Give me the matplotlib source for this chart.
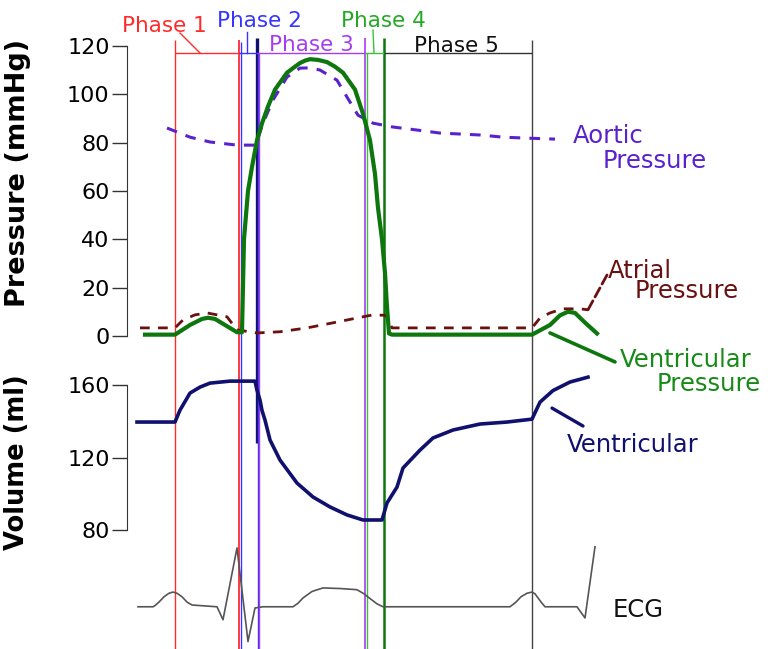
import matplotlib
matplotlib.use("Agg")
import matplotlib.pyplot as plt

# time axis in ms (one heart cycle is ~ 96 -> 810)
phase_names = ['Phase 1', 'Phase 2', 'Phase 3', 'Phase 4', 'Phase 5']
phase_start = [96, 224, 259, 475, 514]
phase_end = [224, 259, 475, 514, 810]

# ventricular pressure (mmHg)
vp_t = [36, 96, 126, 150, 162, 176, 200, 220, 230, 234, 242, 250, 260, 270, 282, 296,
        320, 336, 346, 356, 366, 382, 400, 416, 432, 456, 472, 486, 496, 502, 510, 516,
        520, 524, 530, 810, 846, 866, 882, 896, 916, 940]
vp = [0.5, 0.5, 4.5, 7, 7.5, 7, 4, 1.5, 1.5, 40, 60, 70, 81, 88, 95, 102,
      109, 111.5, 113, 114, 114.6, 114.3, 113.4, 111.5, 109, 102, 92, 81, 67, 53, 40, 26,
      12, 1, 0.5, 0.5, 4.5, 8.5, 10, 9.5, 5.5, 1]

# aortic pressure (mmHg)
ap_t = [80, 126, 166, 220, 256, 262, 272, 292, 320, 346, 366, 386, 420, 440, 462, 492,
        532, 582, 626, 666, 706, 752, 800, 856]
ap = [86.1, 82.3, 80.3, 79.0, 79.0, 82, 88.1, 97.7, 107.2, 110.9, 111, 110.1, 105.9, 98.9,
      91.4, 88.1, 86.5, 85.2, 84.0, 83.6, 83.2, 82.3, 81.9, 81.5]

# atrial pressure (mmHg)
atp_t = [26, 96, 112, 136, 160, 200, 220, 260, 306, 360, 412, 460, 492, 518, 530,
         810, 826, 846, 872, 906, 922]
atp = [3.3, 3.3, 6.6, 8.7, 9.5, 7.9, 2.5, 1.2, 1.7, 3.3, 5.4, 7.4, 8.7, 8.5, 3.3,
       3.3, 7.4, 9.5, 11.2, 11.2, 10.8]

# ventricular volume (ml)
vol_t = [20, 96, 106, 126, 146, 166, 206, 256, 260, 266, 270, 276, 286, 306, 340,
         372, 406, 440, 472, 510, 520, 540, 552, 586, 612, 652, 706, 760, 810,
         826, 852, 886, 922]
vol = [139.6, 139.6, 146.2, 155.6, 158.9, 161.1, 162.2, 162.2, 157.2, 151.7, 146,
       140.7, 129.7, 118.6, 105.9, 98.2, 92.7, 88.3, 85.5, 85.5, 94.9, 103.7, 114.2,
       124.1, 130.8, 135.2, 138.5, 139.6, 141.2, 150.6, 157, 161.7, 164.4]

# ECG (mV)
ecg_t = [22, 52, 56, 64, 74, 84, 92, 100, 110, 120, 130, 180, 192, 220, 242, 256, 272,
         332, 342, 352, 370, 392, 426, 460, 474, 486, 500, 512,
         766, 778, 788, 800, 810, 816, 822, 830, 836, 900, 916, 936]
ecg = [0, 0, 0.02, 0.08, 0.17, 0.23, 0.25, 0.23, 0.17, 0.08, 0.03, 0, -0.22, 1.0, -0.59,
       -0.02, 0, 0, 0.06, 0.15, 0.26, 0.32, 0.31, 0.29, 0.22, 0.14, 0.05, 0,
       0, 0.08, 0.17, 0.23, 0.25, 0.22, 0.15, 0.06, 0, 0, -0.19, 1.02]

RED = '#ff2b2b'
BLUE = '#3535ff'
NAVY = '#10106e'
PURPLE = '#a63cf2'
LGREEN = '#3cbf3c'
DGREEN = '#0d760d'
AORTIC = '#5a22cc'
ATRIAL = '#6b1010'

W, H = 771, 649
fig = plt.figure(figsize=(W / 100, H / 100), dpi=100)


def fy(py):
    return 1 - py / H


left = 127 / W
width = (W - 127) / W
ov = fig.add_axes([left, 0, width, 1])
ov.set_xlim(0, 1288)
ov.set_ylim(0, 1)
ov.axis('off')

# phase boundary lines
vl_t = [96, 224, 228, 259, 261, 263, 475, 480, 514, 810]
vl_c = [RED, RED, BLUE, NAVY, BLUE, PURPLE, PURPLE, LGREEN, DGREEN, '#444444']
vl_w = [1, 1.3, 1, 2.4, 1, 1, 1.2, 1, 1.8, 1]
vl_top = [40, 40, 42, 38, 53, 53, 38, 53, 38, 40]
vl_bot = [649, 649, 649, 443, 649, 649, 649, 649, 649, 649]
for t, c, w, a, b in zip(vl_t, vl_c, vl_w, vl_top, vl_bot):
    ov.vlines(t, fy(b), fy(a), colors=c, lw=w)

phase_col = [RED, BLUE, PURPLE, '#22aa22', '#111111']
ov.hlines([fy(53)] * 5, phase_start, phase_end, colors=[RED, BLUE, PURPLE, LGREEN, '#333333'], lw=1)
# label leaders
ov.plot([106, 146], [fy(33), fy(53)], color=RED, lw=1)
ov.plot([240, 240], [fy(32), fy(53)], color=BLUE, lw=1)
ov.plot([492, 494], [fy(30), fy(53)], color=LGREEN, lw=1)

phase_lbl_x = [74, 264, 368, 512, 658]
phase_lbl_y = [32, 27, 51, 27, 52]
for name, x, y, c in zip(phase_names, phase_lbl_x, phase_lbl_y, phase_col):
    ov.text(x, fy(y), name, color=c, fontsize=15.5, ha='center', va='baseline')

# pressure axes
ax_p = fig.add_axes([left, fy(360), width, (360 - 22) / H])
ax_v = fig.add_axes([left, fy(539), width, (539 - 367) / H])
ax_e = fig.add_axes([left, fy(648), width, (648 - 542) / H])
for ax in (ax_p, ax_v, ax_e):
    ax.set_facecolor('none')
    ax.set_xlim(0, 1288)
    ax.set_xticks([])
    for s in ('top', 'right', 'bottom'):
        ax.spines[s].set_visible(False)
    ax.spines['left'].set_color('#333333')
    ax.tick_params(axis='y', length=11, width=1, pad=1.5, labelsize=16, color='#333333')

ax_p.set_ylim(-10, 130)
ax_p.set_yticks(range(0, 121, 20))
ax_p.spines['left'].set_bounds(0, 120)
ax_p.plot(atp_t, atp, color=ATRIAL, lw=2, ls=(0, (3.5, 3)))
ax_p.plot(ap_t, ap, color=AORTIC, lw=2.2, ls=(0, (3.5, 3)))
ax_p.plot(vp_t, vp, color=DGREEN, lw=3, solid_joinstyle='round')
ax_p.set_ylabel('Pressure (mmHg)', fontsize=19.5, fontweight='bold')
ax_p.yaxis.set_label_coords(-0.149, 0.553)

ax_v.set_ylim(75, 170)
ax_v.set_yticks([80, 120, 160])
ax_v.spines['left'].set_bounds(80, 160)
ax_v.plot(vol_t, vol, color=NAVY, lw=2.6, solid_joinstyle='round')
ax_v.set_ylabel('Volume (ml)', fontsize=18.5, fontweight='bold')
ax_v.yaxis.set_label_coords(-0.150, 0.448)

ax_e.set_ylim(-0.7, 1.1)
ax_e.axis('off')
ax_e.plot(ecg_t, ecg, color='#555555', lw=1.2)

# leaders from curves to their labels
ax_p.annotate('', xy=(922, 10.8), xytext=(960, 25.2),
              arrowprops=dict(arrowstyle='-', color=ATRIAL, lw=2, ls='--', shrinkA=0, shrinkB=0))
ax_p.annotate('', xy=(846, 1.2), xytext=(976, -10.8),
              arrowprops=dict(arrowstyle='-', color=DGREEN, lw=2.6, shrinkA=0, shrinkB=0))
ax_v.annotate('', xy=(850, 147.3), xytext=(912, 137.4),
              arrowprops=dict(arrowstyle='-', color=NAVY, lw=2.4, shrinkA=0, shrinkB=0))

labels = [('Aortic', 573, 143, AORTIC), ('Pressure', 603, 168, AORTIC),
          ('Atrial', 608, 278, ATRIAL), ('Pressure', 635, 298, ATRIAL),
          ('Ventricular', 620, 367, '#178a17'), ('Pressure', 657, 391, '#178a17'),
          ('Ventricular', 567, 452, NAVY), ('ECG', 613, 617, '#111111')]
for s, x, y, c in labels:
    fig.text(x / W, fy(y), s, color=c, fontsize=17.5, ha='left', va='baseline')

fig.savefig('out.png', dpi=100)
